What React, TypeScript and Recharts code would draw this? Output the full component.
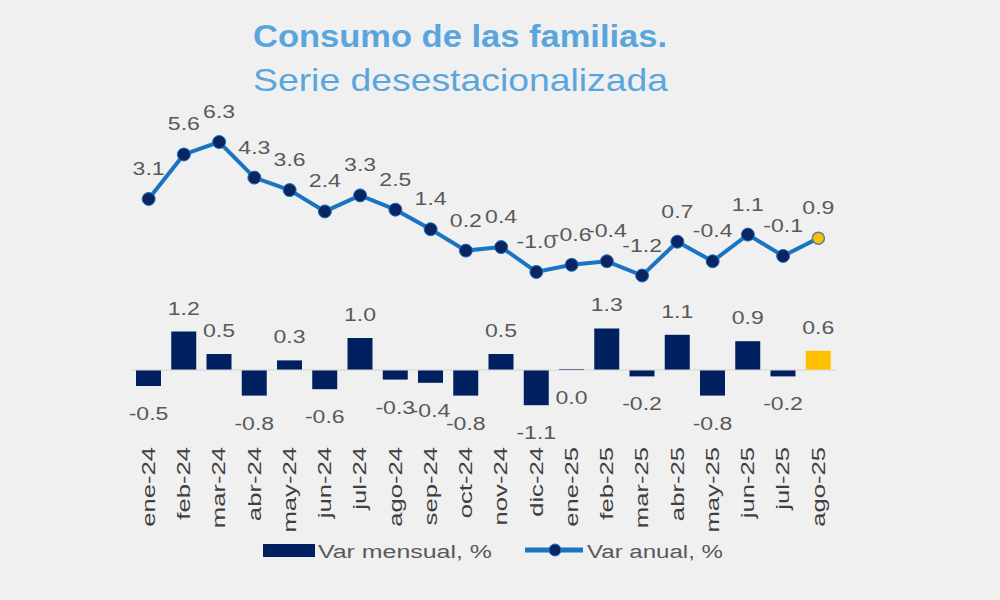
import { ComposedChart, Bar, Line, XAxis, YAxis, Cell, LabelList, ReferenceLine } from 'recharts';

const meses = [
  'ene-24', 'feb-24', 'mar-24', 'abr-24', 'may-24', 'jun-24', 'jul-24', 'ago-24', 'sep-24', 'oct-24',
  'nov-24', 'dic-24', 'ene-25', 'feb-25', 'mar-25', 'abr-25', 'may-25', 'jun-25', 'jul-25', 'ago-25',
];
const varMensual = [-0.5, 1.2, 0.5, -0.8, 0.3, -0.6, 1.0, -0.3, -0.4, -0.8, 0.5, -1.1, 0.0, 1.3, -0.2, 1.1, -0.8, 0.9, -0.2, 0.6];
const varAnual = [3.1, 5.6, 6.3, 4.3, 3.6, 2.4, 3.3, 2.5, 1.4, 0.2, 0.4, -1.0, -0.6, -0.4, -1.2, 0.7, -0.4, 1.1, -0.1, 0.9];

const data = meses.map((mes, i) => ({ mes, mensual: varMensual[i], anual: varAnual[i] }));

const NAVY = '#002060';
const BLUE = '#1a74c2';
const GOLD = '#FFC000';
const GRAY = '#595959';
const BG = '#f1f0f1';
const FONT = '"Liberation Sans", Arial, sans-serif';
const last = data.length - 1;

// el original viene estirado en horizontal, por eso el scale en los textos
const Stretched = ({ x, y, text, size = 18, sx = 1.28, fill = GRAY }: any) => (
  <g transform={`translate(${x},${y}) scale(${sx},1)`}>
    <text x={0} y={0} textAnchor="middle" fontSize={size} fontFamily={FONT} fill={fill}>
      {text}
    </text>
  </g>
);

const BarLabel = (props: any) => {
  const { x, y, width, height, value } = props;
  if (x == null || y == null) return null;
  const top = Math.min(y, y + height);
  const bottom = Math.max(y, y + height);
  const cx = x + width / 2;
  const ty = value > 0 ? top - 17 : bottom + 34;
  return <Stretched x={cx} y={ty} text={Number(value).toFixed(1)} />;
};

const LineLabel = (props: any) => {
  const { x, y, value } = props;
  return <Stretched x={x} y={y - 24} text={Number(value).toFixed(1)} />;
};

const Dot = (props: any) => {
  const { cx, cy, index } = props;
  if (index === last) {
    return <circle key={index} cx={cx} cy={cy} r={6} fill={GOLD} stroke="#5b7fa8" strokeWidth={1.5} />;
  }
  return <circle key={index} cx={cx} cy={cy} r={6.5} fill="#0b2462" stroke={BLUE} strokeWidth={1} />;
};

const MonthTick = (props: any) => {
  const { x, y, payload } = props;
  return (
    <g transform={`translate(${x},${y - 1}) rotate(-90)`}>
      <g transform="scale(1.35,1)">
        <text x={0} y={0} textAnchor="end" dominantBaseline="central" fontSize={19} fontFamily={FONT} fill="#404040">
          {payload.value}
        </text>
      </g>
    </g>
  );
};

export default function App() {
  return (
    <div style={{ position: 'absolute', left: 0, top: 0, width: 1000, height: 600, background: BG }}>
      <ComposedChart
        width={1000}
        height={600}
        data={data}
        margin={{ top: 100, right: 164, bottom: 130, left: 131 }}
      >
        <XAxis dataKey="mes" axisLine={false} tickLine={false} interval={0} height={30} tick={<MonthTick />} />
        <YAxis yAxisId="bar" hide domain={[-2.1875, 8.4375]} allowDataOverflow />
        <YAxis yAxisId="line" hide domain={[-10.44, 8.66]} allowDataOverflow />
        <ReferenceLine yAxisId="bar" y={0} stroke="#d4d4d4" strokeWidth={1} />
        <Bar yAxisId="bar" dataKey="mensual" barSize={25} minPointSize={1} isAnimationActive={false}>
          {data.map((_d, i) => (
            <Cell key={i} fill={i === last ? GOLD : NAVY} />
          ))}
          <LabelList dataKey="mensual" content={<BarLabel />} />
        </Bar>
        <Line
          yAxisId="line"
          dataKey="anual"
          stroke={BLUE}
          strokeWidth={4}
          dot={<Dot />}
          activeDot={false}
          isAnimationActive={false}
        >
          <LabelList dataKey="anual" content={<LineLabel />} />
        </Line>
      </ComposedChart>

      <svg width={1000} height={600} style={{ position: 'absolute', left: 0, top: 0, pointerEvents: 'none' }}>
        <text x={253} y={47} fontSize={32} fontWeight="bold" fontFamily={FONT} fill="#5aa6dc" textLength={414} lengthAdjust="spacingAndGlyphs">
          Consumo de las familias.
        </text>
        <text x={253} y={91} fontSize={32} fontFamily={FONT} fill="#5aa6dc" textLength={415} lengthAdjust="spacingAndGlyphs">
          Serie desestacionalizada
        </text>

        <rect x={263} y={544} width={52} height={13} fill={NAVY} />
        <text x={318} y={558} fontSize={18} fontFamily={FONT} fill={GRAY} textLength={174} lengthAdjust="spacingAndGlyphs">
          Var mensual, %
        </text>
        <line x1={525} y1={550} x2={583} y2={550} stroke={BLUE} strokeWidth={5} />
        <circle cx={555} cy={550} r={6} fill="#0b2462" stroke={BLUE} strokeWidth={1} />
        <text x={587} y={558} fontSize={18} fontFamily={FONT} fill={GRAY} textLength={136} lengthAdjust="spacingAndGlyphs">
          Var anual, %
        </text>
      </svg>
    </div>
  );
}
